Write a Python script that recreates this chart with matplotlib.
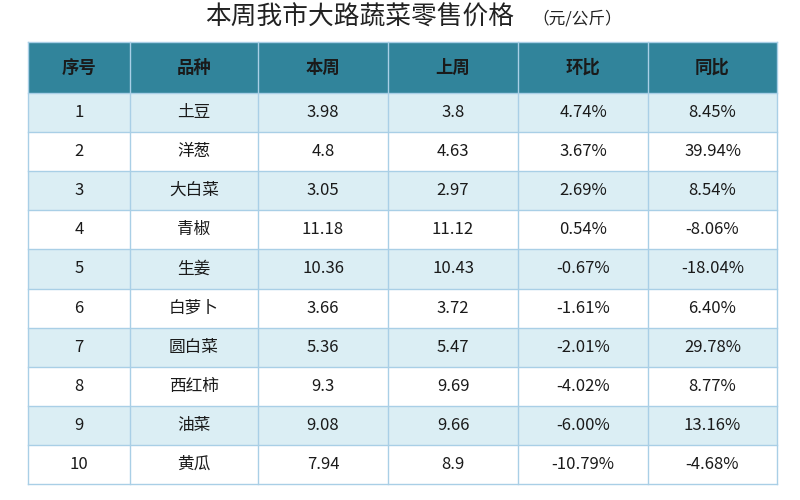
import matplotlib
matplotlib.use("Agg")
import matplotlib.pyplot as plt
from matplotlib.patches import Rectangle

plt.rcParams['font.family'] = ['Noto Sans CJK SC', 'DejaVu Sans']

title = "本周我市大路蔬菜零售价格"
unit = "（元/公斤）"
headers = ["序号", "品种", "本周", "上周", "环比", "同比"]
idx = ["1", "2", "3", "4", "5", "6", "7", "8", "9", "10"]
names = ["土豆", "洋葱", "大白菜", "青椒", "生姜", "白萝卜", "圆白菜", "西红柿", "油菜", "黄瓜"]
this_week = ["3.98", "4.8", "3.05", "11.18", "10.36", "3.66", "5.36", "9.3", "9.08", "7.94"]
last_week = ["3.8", "4.63", "2.97", "11.12", "10.43", "3.72", "5.47", "9.69", "9.66", "8.9"]
mom = ["4.74%", "3.67%", "2.69%", "0.54%", "-0.67%", "-1.61%", "-2.01%", "-4.02%", "-6.00%", "-10.79%"]
yoy = ["8.45%", "39.94%", "8.54%", "-8.06%", "-18.04%", "6.40%", "29.78%", "8.77%", "13.16%", "-4.68%"]

fig = plt.figure(figsize=(8, 5), dpi=100)
ax = fig.add_axes([0, 0, 1, 1])
ax.set_xlim(0, 800)
ax.set_ylim(500, 0)
ax.axis('off')

xs = [28, 130, 258, 388, 518, 648, 777]
top, hh, rh = 42, 51, 39.1
border = "#a9cfe6"

ax.text(205, 18, title, ha='left', va='center', fontsize=18.5, color='#222222')
ax.text(532, 19, unit, ha='left', va='center', fontsize=12, color='#222222')

ax.add_patch(Rectangle((xs[0], top), xs[-1]-xs[0], hh, facecolor='#31849b', edgecolor='none'))
for j, h in enumerate(headers):
    ax.text((xs[j]+xs[j+1])/2, top+hh/2, h, ha='center', va='center', fontsize=12.5,
            fontweight='bold', color='#1a1a1a')

cols = [idx, names, this_week, last_week, mom, yoy]
for i in range(len(idx)):
    y0 = top + hh + i*rh
    fc = '#dbeef4' if i % 2 == 0 else 'white'
    ax.add_patch(Rectangle((xs[0], y0), xs[-1]-xs[0], rh, facecolor=fc, edgecolor='none'))
    for j, c in enumerate(cols):
        ax.text((xs[j]+xs[j+1])/2, y0+rh/2, c[i], ha='center', va='center', fontsize=12,
                color='#1a1a1a')
bottom = top + hh + len(idx)*rh
for i in range(len(idx)+1):
    y = top + hh + i*rh
    ax.plot([xs[0], xs[-1]], [y, y], color=border, lw=1)
ax.plot([xs[0], xs[-1]], [top, top], color=border, lw=1)
for x in xs:
    ax.plot([x, x], [top, bottom], color=border, lw=1)

fig.savefig("out.png", dpi=100)
